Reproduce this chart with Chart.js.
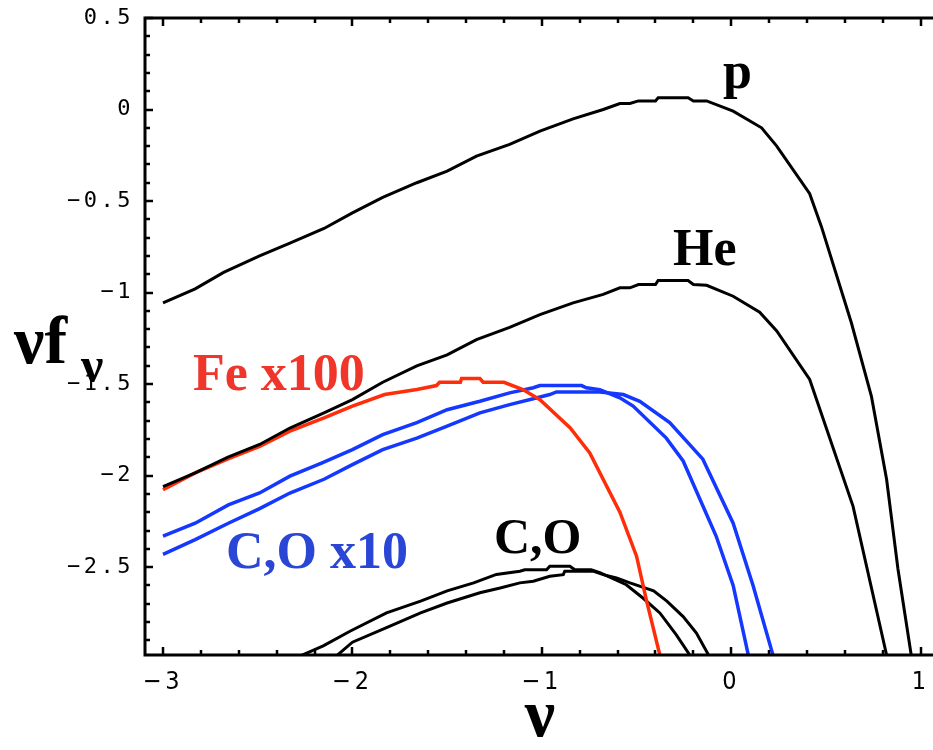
<!DOCTYPE html>
<html>
<head>
<meta charset="utf-8">
<script src="https://cdn.jsdelivr.net/npm/chart.js@4.4.1/dist/chart.umd.min.js"></script>
<style>
  body { margin: 0; background: #fff; }
  #wrap { width: 933px; height: 750px; }
</style>
</head>
<body>
<div id="wrap"><canvas id="c" width="933" height="750"></canvas></div>
<script>
// log energy (nu) and nu*f_nu
const pNu   = [-3.0, -2.83, -2.68, -2.49, -2.33, -2.15, -2.0, -1.84, -1.66, -1.5, -1.345, -1.17, -1.01, -0.835, -0.676, -0.588, -0.535, -0.49, -0.4, -0.386, -0.228, -0.2, -0.13, 0.01, 0.16, 0.24, 0.414, 0.476, 0.634, 0.74, 0.82, 0.88, 0.95, 0.96];
const pFlux = [-1.056, -0.98, -0.89, -0.8, -0.73, -0.65, -0.565, -0.48, -0.4, -0.337, -0.255, -0.19, -0.118, -0.051, 0.0, 0.033, 0.033, 0.047, 0.047, 0.064, 0.064, 0.047, 0.047, -0.009, -0.1, -0.2, -0.46, -0.64, -1.165, -1.567, -2.02, -2.51, -2.98, -3.05];

const heNu   = [-3.0, -2.83, -2.66, -2.49, -2.33, -2.15, -2.0, -1.84, -1.66, -1.5, -1.345, -1.17, -1.01, -0.835, -0.676, -0.588, -0.535, -0.49, -0.4, -0.386, -0.228, -0.2, -0.13, 0.01, 0.15, 0.24, 0.414, 0.643, 0.82, 0.83];
const heFlux = [-2.06, -1.985, -1.9, -1.83, -1.74, -1.657, -1.585, -1.49, -1.4, -1.34, -1.257, -1.19, -1.12, -1.056, -1.01, -0.974, -0.974, -0.956, -0.956, -0.934, -0.934, -0.956, -0.96, -1.02, -1.107, -1.21, -1.475, -2.168, -2.98, -3.05];

const feNu   = [-3.0, -2.83, -2.66, -2.49, -2.33, -2.15, -2.0, -1.83, -1.66, -1.556, -1.54, -1.43, -1.424, -1.327, -1.31, -1.2, -1.1, -1.01, -0.85, -0.747, -0.588, -0.5, -0.448, -0.377, -0.37];
const feFlux = [-2.077, -1.985, -1.91, -1.84, -1.757, -1.685, -1.62, -1.557, -1.53, -1.508, -1.49, -1.49, -1.47, -1.47, -1.49, -1.49, -1.53, -1.585, -1.74, -1.876, -2.2, -2.44, -2.68, -2.98, -3.05];

const cx10Nu   = [-3.0, -2.83, -2.655, -2.49, -2.33, -2.16, -2.0, -1.84, -1.66, -1.5, -1.327, -1.17, -1.045, -1.01, -0.79, -0.765, -0.694, -0.588, -0.518, -0.343, -0.254, -0.08, 0.01, 0.09, 0.1];
const cx10Flux = [-2.33, -2.26, -2.16, -2.095, -2.003, -1.93, -1.858, -1.776, -1.71, -1.64, -1.594, -1.548, -1.52, -1.508, -1.508, -1.52, -1.53, -1.575, -1.62, -1.795, -1.92, -2.33, -2.6, -2.98, -3.05];

const ox10Nu   = [-3.0, -2.83, -2.655, -2.49, -2.33, -2.15, -2.0, -1.84, -1.66, -1.5, -1.327, -1.17, -1.03, -0.958, -0.923, -0.694, -0.57, -0.483, -0.325, -0.15, 0.01, 0.115, 0.22, 0.23];
const ox10Flux = [-2.43, -2.35, -2.26, -2.18, -2.095, -2.02, -1.94, -1.858, -1.795, -1.73, -1.657, -1.612, -1.576, -1.557, -1.543, -1.543, -1.557, -1.594, -1.71, -1.91, -2.26, -2.6, -2.98, -3.05];

const cNu   = [-2.33, -2.286, -2.154, -2.013, -1.82, -1.64, -1.5, -1.36, -1.24, -1.116, -1.09, -0.975, -0.958, -0.852, -0.826, -0.74, -0.694, -0.554, -0.465, -0.377, -0.29, -0.219, -0.21];
const cFlux = [-3.02, -2.99, -2.93, -2.85, -2.75, -2.686, -2.63, -2.586, -2.54, -2.522, -2.514, -2.514, -2.495, -2.495, -2.514, -2.514, -2.53, -2.596, -2.67, -2.75, -2.87, -2.98, -3.05];

const oNu   = [-2.13, -2.09, -2.0, -1.82, -1.64, -1.5, -1.327, -1.22, -1.116, -1.045, -0.958, -0.887, -0.879, -0.73, -0.676, -0.606, -0.535, -0.41, -0.34, -0.254, -0.184, -0.12, -0.11];
const oFlux = [-3.02, -2.99, -2.91, -2.83, -2.75, -2.696, -2.64, -2.614, -2.586, -2.577, -2.55, -2.541, -2.522, -2.522, -2.541, -2.559, -2.586, -2.63, -2.686, -2.77, -2.86, -2.98, -3.05];

const xTickLabels = [-3, -2, -1, 0, 1];
const yTickLabels = [-2.5, -2, -1.5, -1, -0.5, 0, 0.5];

const zip = (xs, ys) => xs.map((x, i) => ({ x: x, y: ys[i] }));

const BLACK = '#000000';
const BLUE = '#1438ff';
const RED = '#ff2e0a';

function line(label, xs, ys, color, width) {
  return {
    label: label,
    data: zip(xs, ys),
    showLine: true,
    borderColor: color,
    borderWidth: width,
    pointRadius: 0,
    tension: 0,
    fill: false
  };
}

const serif = '"Liberation Serif", "Times New Roman", serif';

const decor = {
  id: 'decor',
  beforeDraw(chart) {
    // y tick labels are drawn with wide spacing (mono font)
    chart.ctx.letterSpacing = '3.5px';
  },
  afterDatasetsDraw(chart) {
    chart.ctx.letterSpacing = '0px';
  },
  afterDraw(chart) {
    const { ctx, chartArea: a, scales: { x, y } } = chart;
    ctx.save();
    ctx.letterSpacing = '0px';
    ctx.strokeStyle = '#000';
    ctx.lineWidth = 3;
    ctx.beginPath();
    ctx.moveTo(a.right + 2, a.top);
    ctx.lineTo(a.left, a.top);
    ctx.lineTo(a.left, a.bottom);
    ctx.lineTo(a.right + 2, a.bottom);
    ctx.stroke();

    // tick marks pointing inwards
    ctx.lineWidth = 2.5;
    ctx.beginPath();
    for (let i = 0; i <= 20; i++) {
      const px = Math.round(x.getPixelForValue(-3 + i * 0.2));
      const len = i % 5 === 0 ? 8 : 5;
      ctx.moveTo(px, a.bottom); ctx.lineTo(px, a.bottom - len);
      ctx.moveTo(px, a.top); ctx.lineTo(px, a.top + len);
    }
    for (let i = -29; i <= 5; i++) {
      const py = Math.round(y.getPixelForValue(i / 10));
      const len = i % 5 === 0 ? 8 : 5;
      ctx.moveTo(a.left, py); ctx.lineTo(a.left + len, py);
    }
    ctx.stroke();

    // curve labels
    ctx.textAlign = 'left';
    ctx.textBaseline = 'alphabetic';
    ctx.font = 'bold 52px ' + serif;
    ctx.fillStyle = '#000';
    ctx.fillText('p', 723, 88);
    ctx.fillText('He', 673, 265);
    ctx.fillStyle = '#f0352a';
    ctx.fillText('Fe x100', 193, 390);
    ctx.fillStyle = '#2a46d6';
    ctx.fillText('C,O x10', 226, 568);
    ctx.fillStyle = '#000';
    ctx.font = 'bold 50px ' + serif;
    ctx.fillText('C,O', 494, 553);

    // axis titles
    ctx.font = 'bold 68px ' + serif;
    ctx.fillText('νf', 14, 363);
    ctx.font = 'bold 50px ' + serif;
    ctx.fillText('ν', 81, 382);
    ctx.font = 'bold 68px ' + serif;
    ctx.textAlign = 'center';
    ctx.fillText('ν', 540, 736);
    ctx.restore();
  }
};

const minus = v => String(v).replace('-', '\u2212');

new Chart(document.getElementById('c'), {
  type: 'scatter',
  data: {
    datasets: [
      line('p', pNu, pFlux, BLACK, 3),
      line('He', heNu, heFlux, BLACK, 3),
      line('Fe x100', feNu, feFlux, RED, 3.5),
      line('C x10', cx10Nu, cx10Flux, BLUE, 3.5),
      line('O x10', ox10Nu, ox10Flux, BLUE, 3.5),
      line('C', cNu, cFlux, BLACK, 3),
      line('O', oNu, oFlux, BLACK, 3)
    ]
  },
  options: {
    responsive: false,
    animation: false,
    layout: { padding: { top: 18, right: 0, left: 0, bottom: 0 } },
    plugins: { legend: { display: false }, tooltip: { enabled: false } },
    scales: {
      x: {
        type: 'linear',
        min: -3.095,
        max: 1.065,
        z: 1,
        grid: { display: false, drawTicks: false },
        border: { display: false },
        afterBuildTicks: s => { s.ticks = xTickLabels.map(v => ({ value: v })); },
        afterFit: s => { s.height = 95; s.paddingLeft = 0; s.paddingRight = 0; },
        ticks: {
          color: '#000',
          padding: 12,
          maxRotation: 0,
          font: { family: '"Liberation Sans Narrow", "DejaVu Sans Condensed", "Liberation Sans", sans-serif', size: 25 },
          callback: v => minus(v)
        }
      },
      y: {
        type: 'linear',
        min: -2.98,
        max: 0.5,
        z: 0,
        grid: { display: false, drawTicks: false },
        border: { display: false },
        afterBuildTicks: s => { s.ticks = yTickLabels.map(v => ({ value: v })); },
        afterFit: s => { s.width = 145; s.paddingTop = 0; s.paddingBottom = 0; },
        ticks: {
          color: '#000',
          padding: 11,
          font: { family: '"DejaVu Sans Mono", monospace', size: 22 },
          callback: v => minus(v)
        }
      }
    }
  },
  plugins: [decor]
});
</script>
</body>
</html>
